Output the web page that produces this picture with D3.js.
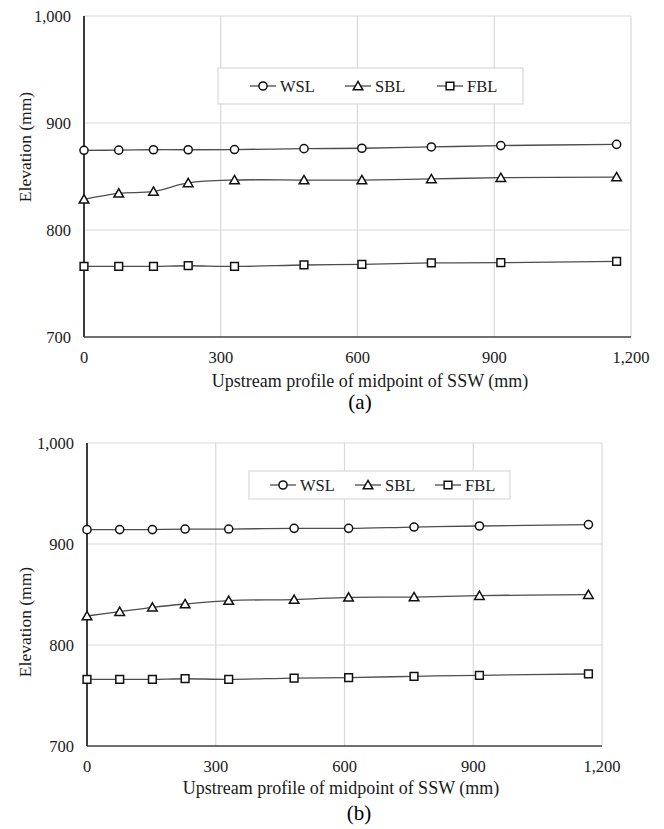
<!DOCTYPE html>
<html>
<head>
<meta charset="utf-8">
<script src="https://cdn.jsdelivr.net/npm/d3@7"></script>
<style>
  body { margin: 0; background: #fff; }
  svg text { font-family: "Liberation Serif", "Times New Roman", Times, "DejaVu Serif", serif; }
</style>
</head>
<body>
<svg id="chart" width="664" height="829"></svg>
<script>
// distance along the upstream profile (mm), same stations for both panels
const stations = [0, 76.2, 152.4, 228.6, 330.2, 482.6, 609.6, 762, 914.4, 1168.4];

// panel (a)
const wslA = [874.5, 874.6, 875, 875, 875.2, 876, 876.4, 877.6, 878.9, 880];
const sblA = [828.7, 834.3, 836, 844, 846.7, 846.7, 846.7, 847.7, 848.9, 849.5];
const fblA = [766, 766, 766, 766.6, 766, 767.3, 767.9, 769.2, 769.5, 770.7];

// panel (b)
const wslB = [914.2, 914.3, 914.3, 914.8, 914.8, 915.5, 915.5, 916.8, 917.8, 919.2];
const sblB = [828.7, 833, 837.3, 840.6, 844, 845, 847.2, 847.5, 848.9, 849.9];
const fblB = [766, 766, 766, 766.6, 766, 767.3, 767.7, 769, 770, 771.3];

const seriesNames = ["WSL", "SBL", "FBL"];
const symbols = [d3.symbolCircle, d3.symbolTriangle, d3.symbolSquare];
const xTicks = [0, 300, 600, 900, 1200];
const yTicks = [700, 800, 900, 1000];
const xTitle = "Upstream profile of midpoint of SSW (mm)";
const yTitle = "Elevation (mm)";

const svg = d3.select("#chart");
const fmt = d3.format(",");

const panels = [
  {
    box: { left: 84, right: 631, top: 16, bottom: 337 },
    data: [wslA, sblA, fblA],
    legend: { x0: 218, x1: 523, y0: 68, y1: 104, items: [250, 345, 437] },
    xTitleX: 370, xTitleY: 387, yTitleY: 147, tag: "(a)", tagX: 360, tagY: 409
  },
  {
    box: { left: 87, right: 602, top: 443, bottom: 746 },
    data: [wslB, sblB, fblB],
    legend: { x0: 249, x1: 510, y0: 471, y1: 499, items: [270, 355, 435] },
    xTitleX: 341, xTitleY: 794, yTitleY: 622, tag: "(b)", tagX: 359, tagY: 820
  }
];

// symbol size: area in px^2
const symSize = [52, 40, 60];

function drawPanel(p) {
  const b = p.box;
  const x = d3.scaleLinear().domain([0, 1200]).range([b.left, b.right]);
  const y = d3.scaleLinear().domain([700, 1000]).range([b.bottom, b.top]);
  const g = svg.append("g");

  // grid
  g.selectAll(".vg").data(xTicks.slice(1)).join("line")
    .attr("x1", d => x(d)).attr("x2", d => x(d))
    .attr("y1", b.top).attr("y2", b.bottom)
    .attr("stroke", "#d9d9d9").attr("stroke-width", 1.2);
  g.selectAll(".hg").data(yTicks.slice(1)).join("line")
    .attr("x1", b.left).attr("x2", b.right)
    .attr("y1", d => y(d)).attr("y2", d => y(d))
    .attr("stroke", "#d9d9d9").attr("stroke-width", 1.2);

  // axes (dark left and bottom)
  g.append("line").attr("x1", b.left).attr("x2", b.left)
    .attr("y1", b.top).attr("y2", b.bottom)
    .attr("stroke", "#262626").attr("stroke-width", 1.8);
  g.append("line").attr("x1", b.left).attr("x2", b.right)
    .attr("y1", b.bottom).attr("y2", b.bottom)
    .attr("stroke", "#404040").attr("stroke-width", 1.6);

  // tick labels
  g.selectAll(".yt").data(yTicks).join("text")
    .attr("x", b.left - 13).attr("y", d => y(d)).attr("dy", "0.35em")
    .attr("text-anchor", "end").attr("font-size", 16.5).attr("fill", "#1a1a1a")
    .text(d => fmt(d));
  g.selectAll(".xt").data(xTicks).join("text")
    .attr("x", d => x(d)).attr("y", b.bottom + 26)
    .attr("text-anchor", "middle").attr("font-size", 16.5).attr("fill", "#1a1a1a")
    .text(d => fmt(d));

  // titles
  g.append("text").attr("x", p.xTitleX).attr("y", p.xTitleY)
    .attr("text-anchor", "middle").attr("font-size", 18).attr("fill", "#1a1a1a")
    .text(xTitle);
  g.append("text")
    .attr("transform", `translate(31,${p.yTitleY}) rotate(-90)`)
    .attr("text-anchor", "middle").attr("font-size", 17.5).attr("fill", "#1a1a1a")
    .text(yTitle);
  g.append("text").attr("x", p.tagX).attr("y", p.tagY)
    .attr("text-anchor", "middle").attr("font-size", 21).attr("fill", "#000")
    .text(p.tag);

  // series
  const line = d3.line()
    .x((d, i) => x(stations[i]))
    .y(d => y(d))
    .curve(d3.curveCatmullRom.alpha(0.5));

  p.data.forEach((vals, si) => {
    g.append("path").attr("d", line(vals))
      .attr("fill", "none").attr("stroke", "#4d4d4d").attr("stroke-width", 1.3);
    const sym = d3.symbol().type(symbols[si]).size(symSize[si]);
    g.selectAll(null).data(vals).join("path")
      .attr("transform", (d, i) => `translate(${x(stations[i])},${y(d) + (si === 1 ? 1 : 0)})`)
      .attr("d", sym)
      .attr("fill", "#fff").attr("stroke", "#111").attr("stroke-width", 1.5);
  });

  // legend
  const L = p.legend;
  g.append("rect").attr("x", L.x0).attr("y", L.y0)
    .attr("width", L.x1 - L.x0).attr("height", L.y1 - L.y0)
    .attr("fill", "#fff").attr("stroke", "#d9d9d9").attr("stroke-width", 1.2);
  const cy = (L.y0 + L.y1) / 2;
  seriesNames.forEach((name, si) => {
    const lx = L.items[si];
    g.append("line").attr("x1", lx).attr("x2", lx + 26)
      .attr("y1", cy).attr("y2", cy)
      .attr("stroke", "#4d4d4d").attr("stroke-width", 1.3);
    g.append("path")
      .attr("transform", `translate(${lx + 13},${cy + (si === 1 ? 1 : 0)})`)
      .attr("d", d3.symbol().type(symbols[si]).size(symSize[si]))
      .attr("fill", "#fff").attr("stroke", "#111").attr("stroke-width", 1.5);
    g.append("text").attr("x", lx + 30).attr("y", cy).attr("dy", "0.35em")
      .attr("font-size", 16.5).attr("fill", "#1a1a1a").text(name);
  });
}

panels.forEach(drawPanel);
</script>
</body>
</html>
